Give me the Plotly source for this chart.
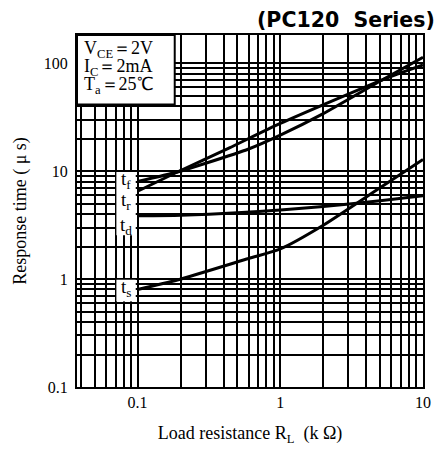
import math
import plotly.graph_objects as go

# ---- data (x: load resistance kOhm, y: response time us) ----
tf_x = [0.1, 0.19, 0.3, 0.6, 1, 2, 5.2, 10]
tf_y = [8.0, 9.8, 11.8, 16.0, 21.5, 34, 70, 113]

tr_x = [0.1, 0.19, 0.44, 1, 5.2, 10]
tr_y = [6.5, 9.8, 16.4, 27.6, 70, 96]

td_x = [0.1, 0.2, 0.5, 1, 2, 5, 10]
td_y = [3.85, 3.9, 4.1, 4.35, 4.7, 5.3, 5.9]

ts_x = [0.1, 0.19, 0.6, 1, 2, 5, 10]
ts_y = [0.8, 0.98, 1.55, 1.9, 3.15, 7.0, 12.8]

x_tick_vals = [0.1, 1, 10]
x_tick_text = ["0.1", "1", "10"]
y_tick_vals = [0.1, 1, 10, 100]
y_tick_text = ["0.1", "1", "10", "100"]

curve_labels = ["t<sub>f</sub>", "t<sub>r</sub>", "t<sub>d</sub>", "t<sub>s</sub>"]
curve_label_y = [8.2, 5.25, 3.1, 0.83]

cond_lines = ["V<sub>CE</sub>\uff1d2V", "I<sub>C</sub>\uff1d2mA", "T<sub>a</sub>\uff1d25\u2103"]
cond_y = [133, 91.5, 61.5]

X_MIN, X_MAX = 0.0376, 10
Y_MIN, Y_MAX = 0.1, 182

serif = "Liberation Serif, Times New Roman, serif"
L = math.log10

minor_x = [m * d for d in (0.01, 0.1, 1) for m in range(2, 10) if X_MIN <= m * d <= X_MAX]
minor_y = [m * d for d in (0.1, 1, 10, 100) for m in range(2, 10) if Y_MIN <= m * d <= Y_MAX]

fig = go.Figure()
for xs, ys in [(tf_x, tf_y), (tr_x, tr_y), (td_x, td_y), (ts_x, ts_y)]:
    fig.add_trace(go.Scatter(x=xs, y=ys, mode="lines",
                             line=dict(color="black", width=3, shape="spline", smoothing=0.6),
                             showlegend=False, hoverinfo="skip"))

shapes = []
# conditions box (shape coords on log axes are data values)
shapes.append(dict(type="rect", xref="x", yref="y", x0=X_MIN, x1=0.182, y0=41.4, y1=Y_MAX,
                   fillcolor="white", line=dict(color="black", width=2), layer="above"))
# label strips
shapes.append(dict(type="rect", xref="x", yref="y", x0=0.071, x1=0.097, y0=2.55, y1=9.8,
                   fillcolor="white", line=dict(width=0), layer="above"))
shapes.append(dict(type="rect", xref="x", yref="y", x0=0.071, x1=0.097, y0=0.62, y1=0.985,
                   fillcolor="white", line=dict(width=0), layer="above"))

annotations = []
for txt, yv in zip(curve_labels, curve_label_y):
    annotations.append(dict(x=L(0.083), y=L(yv), xref="x", yref="y", text=txt, showarrow=False,
                            font=dict(family=serif, size=19, color="black")))
for txt, yv in zip(cond_lines, cond_y):
    annotations.append(dict(x=L(0.0405), y=L(yv), xref="x", yref="y", text=txt, showarrow=False,
                            xanchor="left", font=dict(family=serif, size=18, color="black")))
annotations.append(dict(x=(259 - 77) / 354, y=1.042, xref="paper", yref="paper", xanchor="left", yanchor="middle",
                        text="<b>(PC120\u00a0 Series)</b>", showarrow=False,
                        font=dict(family="DejaVu Sans", size=20.5, color="black")))

fig.update_layout(
    width=441, height=450,
    margin=dict(l=77, r=10, t=35, b=55),
    paper_bgcolor="white", plot_bgcolor="white",
    shapes=shapes, annotations=annotations,
    xaxis=dict(type="log", range=[L(X_MIN), L(X_MAX)], tickmode="array",
               tickvals=x_tick_vals, ticktext=x_tick_text, ticks="",
               showgrid=True, gridcolor="black", gridwidth=1.8,
               minor=dict(tickmode="array", tickvals=minor_x, showgrid=True, gridcolor="black", gridwidth=1.5, ticks=""),
               showline=True, linecolor="black", linewidth=2, mirror=True, zeroline=False,
               tickfont=dict(family=serif, size=16, color="black"),
               title=dict(text="Load resistance R<sub>L</sub>\u00a0 (k\u00a0\u03a9)", standoff=16,
                          font=dict(family=serif, size=18, color="black"))),
    yaxis=dict(type="log", range=[L(Y_MIN), L(Y_MAX)], tickmode="array",
               tickvals=y_tick_vals, ticktext=y_tick_text, ticks="",
               showgrid=True, gridcolor="black", gridwidth=1.8,
               minor=dict(tickmode="array", tickvals=minor_y, showgrid=True, gridcolor="black", gridwidth=1.5, ticks=""),
               showline=True, linecolor="black", linewidth=2, mirror=True, zeroline=False,
               tickfont=dict(family=serif, size=16, color="black"), ticklabelstandoff=4,
               title=dict(text="Response time (\u00a0\u03bc\u00a0s)", standoff=12,
                          font=dict(family=serif, size=18, color="black"))),
)

fig.write_html("out.html")
